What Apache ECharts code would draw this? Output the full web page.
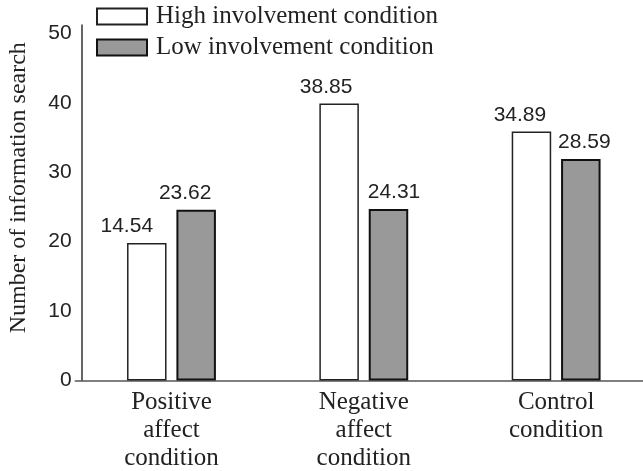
<!DOCTYPE html>
<html>
<head>
<meta charset="utf-8">
<script src="https://cdn.jsdelivr.net/npm/echarts@6/dist/echarts.min.js"></script>
<style>
  html, body { margin: 0; padding: 0; background: #fff; }
  #chart { width: 643px; height: 471px; }
</style>
</head>
<body>
<div id="chart"></div>
<script>
// ---- data ----
const categories = ['Positive\naffect\ncondition', 'Negative\naffect\ncondition', 'Control\ncondition'];
const seriesNames = ['High involvement condition', 'Low involvement condition'];
const highValues = [19.8, 39.9, 35.85];   // bar heights as drawn
const lowValues = [24.6, 24.7, 31.9];
const highLabels = ['14.54', '38.85', '34.89']; // printed value labels
const lowLabels = ['23.62', '24.31', '28.59'];
const yAxisTitle = 'Number of information search';

// ---- layout (label nudges, px) ----
const highLabelDx = [-20, -13, -11.5];
const lowLabelDx = [-11, 5.5, 3.5];

const serif = '"Liberation Serif", "Times New Roman", serif';
const sans = '"Liberation Sans", Arial, sans-serif';

function buildData(values, labels, dx) {
  return values.map((v, i) => ({
    value: v,
    label: { formatter: labels[i], offset: [dx[i], 0] }
  }));
}

const chart = echarts.init(document.getElementById('chart'), null, { renderer: 'canvas' });
chart.setOption({
  animation: false,
  backgroundColor: '#fff',
  grid: { left: 75.3, top: 25, width: 577, height: 355.5, containLabel: false, outerBoundsMode: 'none' },
  legend: {
    orient: 'vertical',
    left: 96, top: 4,
    padding: 0,
    itemWidth: 50, itemHeight: 16,
    itemGap: 6,
    icon: 'rect',
    textStyle: { fontFamily: serif, fontSize: 25, color: '#222', padding: [0, 0, 0, 4] },
    data: seriesNames
  },
  xAxis: {
    type: 'category',
    data: categories,
    axisLine: { lineStyle: { color: '#555', width: 1.5 } },
    axisTick: { show: false },
    axisLabel: { fontFamily: serif, fontSize: 25, color: '#222', lineHeight: 28, margin: 8, interval: 0 }
  },
  yAxis: {
    type: 'value',
    min: 0, max: 51.2, interval: 10,
    offset: -6.4,
    splitLine: { show: false },
    axisTick: { show: false },
    axisLine: { show: true, lineStyle: { color: '#333', width: 1.5 } },
    axisLabel: {
      fontFamily: sans, fontSize: 21, color: '#222', margin: 10,
      formatter: v => (v % 10 === 0 ? String(v) : '')
    },
    name: yAxisTitle,
    nameLocation: 'middle',
    nameGap: 51,
    nameTextStyle: { fontFamily: serif, fontSize: 24, color: '#222', padding: [0, 0, 0, 30] }
  },
  series: [
    {
      name: seriesNames[0], type: 'bar', barWidth: 39.5, barGap: '25%',
      itemStyle: { color: '#fff', borderColor: '#222', borderWidth: 1.5 },
      label: { show: true, position: 'top', distance: 6, fontFamily: sans, fontSize: 21, color: '#222' },
      data: buildData(highValues, highLabels, highLabelDx)
    },
    {
      name: seriesNames[1], type: 'bar', barWidth: 39.5, barGap: '25%',
      itemStyle: { color: '#999', borderColor: '#111', borderWidth: 2 },
      label: { show: true, position: 'top', distance: 6, fontFamily: sans, fontSize: 21, color: '#222' },
      data: buildData(lowValues, lowLabels, lowLabelDx)
    }
  ]
});
</script>
</body>
</html>
